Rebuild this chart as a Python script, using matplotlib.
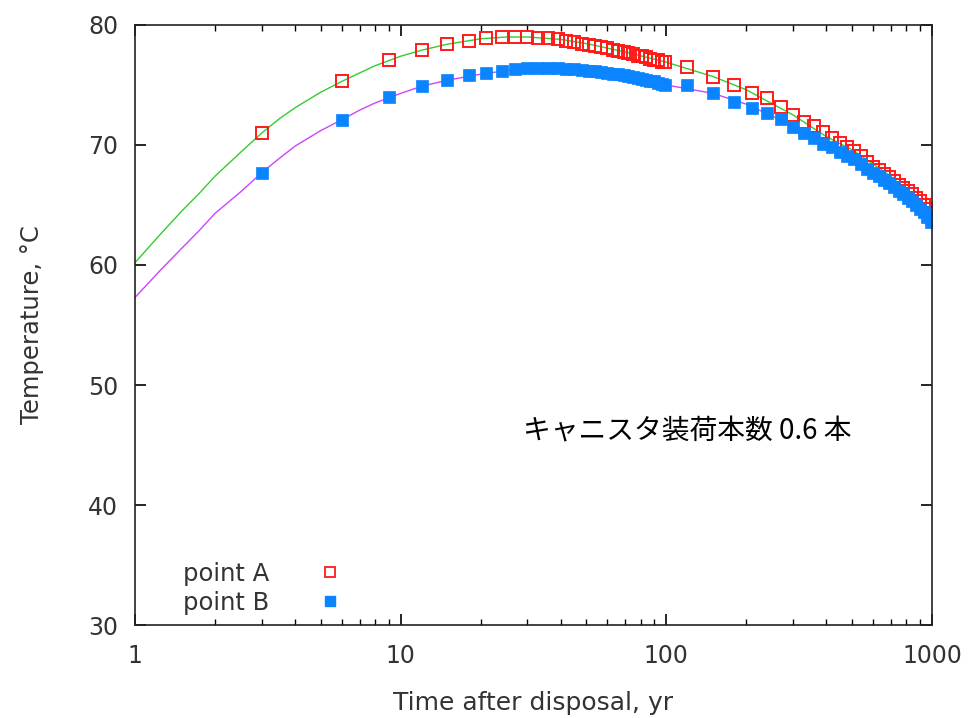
import matplotlib
matplotlib.use("Agg")
import matplotlib.pyplot as plt
from matplotlib.lines import Line2D

# 線のデータ (計算曲線)
t_line = [1, 1.25, 1.5, 1.75, 2, 2.5, 3, 3.5, 4, 5, 6, 7, 8, 10, 12, 15, 20, 25,
          30, 40, 50, 70, 100, 150, 200, 300, 400, 500, 700, 1000]
lineA = [60.2, 62.6, 64.5, 66.0, 67.4, 69.4, 71.0, 72.2, 73.1, 74.4, 75.3, 76.0,
         76.6, 77.4, 77.9, 78.4, 78.85, 79.0, 79.0, 78.8, 78.45, 77.75, 76.9,
         75.7, 74.6, 72.5, 70.7, 69.6, 67.4, 64.3]
lineB = [57.3, 59.6, 61.4, 62.9, 64.3, 66.1, 67.7, 68.9, 69.9, 71.2, 72.1, 72.9,
         73.5, 74.3, 74.9, 75.4, 75.9, 76.2, 76.35, 76.4, 76.2, 75.7, 75.0,
         74.3, 73.4, 71.6, 70.2, 68.9, 66.8, 63.5]

# マーカーのデータ
t_pts = [3, 6, 9, 12, 15, 18, 21, 24, 27, 30, 33, 36, 39, 42, 45, 48, 51, 54, 57,
         60, 63, 66, 69, 72, 75, 78, 81, 84, 87, 90, 93, 96, 99,
         120, 150, 180, 210, 240, 270, 300, 330, 360, 390, 420, 450, 480, 510,
         540, 570, 600, 630, 660, 690, 720, 750, 780, 810, 840, 870, 900, 930,
         960, 990]
ptA = [71.0, 75.3, 77.1, 77.9, 78.4, 78.7, 78.9, 79.0, 79.0, 79.0, 78.95, 78.9,
       78.8, 78.7, 78.55, 78.45, 78.35, 78.25, 78.15, 78.05, 77.95, 77.85, 77.75,
       77.65, 77.55, 77.45, 77.4, 77.3, 77.2, 77.1, 77.05, 76.95, 76.9,
       76.5, 75.7, 75.0, 74.3, 73.9, 73.2, 72.5, 71.9, 71.6, 71.1, 70.6, 70.2,
       69.8, 69.5, 69.1, 68.6, 68.2, 67.9, 67.6, 67.3, 67.0, 66.7, 66.4, 66.2,
       65.9, 65.6, 65.3, 65.0, 64.7, 64.3]
ptB = [67.7, 72.1, 74.0, 74.9, 75.4, 75.8, 76.0, 76.2, 76.35, 76.4, 76.4, 76.4,
       76.4, 76.35, 76.3, 76.25, 76.2, 76.15, 76.1, 76.0, 75.95, 75.9, 75.8,
       75.75, 75.7, 75.6, 75.5, 75.45, 75.35, 75.3, 75.2, 75.1, 75.0,
       75.0, 74.3, 73.6, 73.1, 72.7, 72.2, 71.5, 71.0, 70.6, 70.1, 69.8, 69.4,
       69.1, 68.8, 68.4, 68.0, 67.7, 67.4, 67.1, 66.8, 66.5, 66.2, 65.9, 65.6,
       65.3, 65.0, 64.7, 64.4, 64.0, 63.6]

labels = ["point A", "point B"]
note = "キャニスタ装荷本数 0.6 本"

txt = "#333333"
fig = plt.figure(figsize=(9.68, 7.18), dpi=100)
ax = fig.add_axes([0.1395, 0.1295, 0.8233, 0.8357])

ax.plot(t_line, lineA, color="#33cc33", lw=1.0)
ax.plot(t_line, lineB, color="#cc44ff", lw=1.0)
ax.plot(t_pts, ptA, ls="none", marker="s", ms=8.5, mfc="none", mec="#ff1a1a", mew=1.4)
ax.plot(t_pts, ptB, ls="none", marker="s", ms=8.5, mfc="#0a84ff", mec="#0a84ff", mew=0.5)

ax.set_xscale("log")
ax.set_xlim(1, 1000)
ax.set_ylim(30, 80)
ax.set_xticks([1, 10, 100, 1000])
ax.set_xticklabels(["1", "10", "100", "1000"])
ax.set_yticks([30, 40, 50, 60, 70, 80])
ax.tick_params(which="both", direction="in", top=True, right=True,
               labelsize=17, labelcolor=txt)
ax.tick_params(axis="x", pad=14)
ax.tick_params(axis="y", pad=12)
ax.tick_params(which="major", length=8, width=1.2)
ax.tick_params(which="minor", length=4, width=1.0)
for s in ax.spines.values():
    s.set_linewidth(1.2)
    s.set_color("#222222")

ax.set_xlabel("Time after disposal, yr", fontsize=18, color=txt, labelpad=16)
ax.set_ylabel("Temperature, \u00b0C", fontsize=17.5, color=txt, labelpad=32)

handles = [
    Line2D([], [], ls="none", marker="s", ms=7, mfc="none", mec="#ff1a1a", mew=1.3),
    Line2D([], [], ls="none", marker="s", ms=7, mfc="#0a84ff", mec="#0a84ff"),
]
leg = ax.legend(handles, labels, loc="lower left", bbox_to_anchor=(0.033, -0.019),
                markerfirst=False, frameon=False, fontsize=17.5, handlelength=2.0,
                handletextpad=1.5, labelspacing=0.2)
for t in leg.get_texts():
    t.set_color(txt)

ax.text(0.487, 0.322, note, transform=ax.transAxes, fontsize=20,
        family=["Noto Sans CJK JP", "DejaVu Sans"], va="center", ha="left")

fig.savefig("out.png", dpi=100)
